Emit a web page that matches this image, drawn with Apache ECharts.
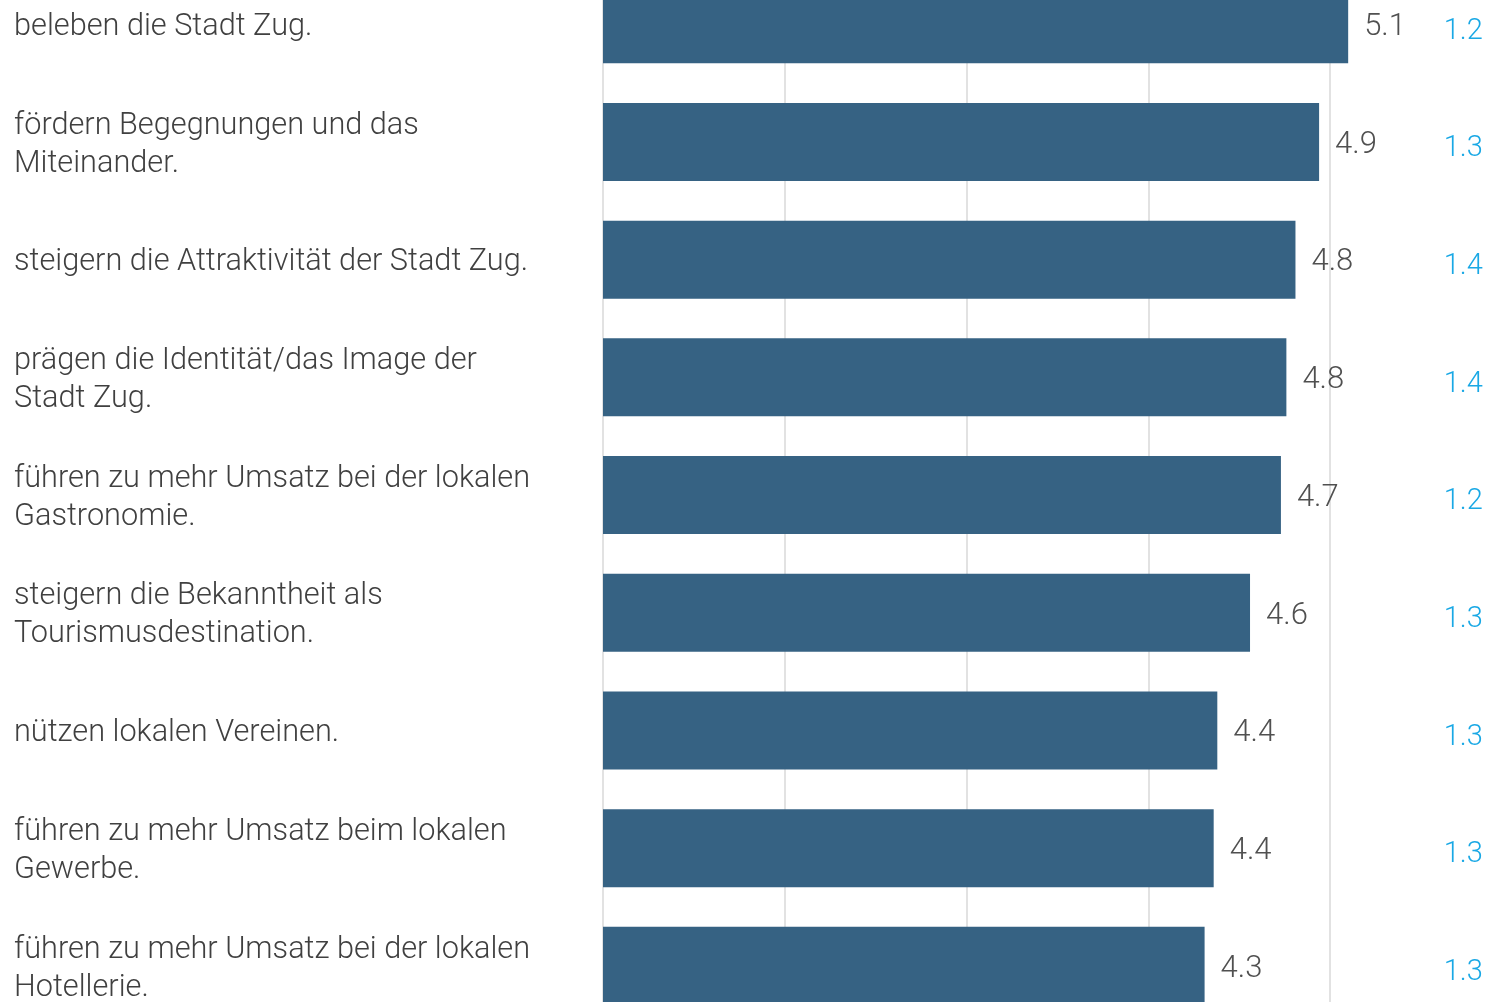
<!DOCTYPE html>
<html>
<head>
<meta charset="utf-8">
<script src="https://cdn.jsdelivr.net/npm/echarts@6/dist/echarts.min.js"></script>
<style>
html,body{margin:0;padding:0;background:#fff;width:1492px;height:1002px;overflow:hidden;position:relative;}
#chart{position:absolute;left:0;top:-40px;width:1600px;height:1100px;}
</style>
</head>
<body>
<div id="chart"></div>
<script>
var categories = [
  "beleben die Stadt Zug.",
  "fördern Begegnungen und das\nMiteinander.",
  "steigern die Attraktivität der Stadt Zug.",
  "prägen die Identität/das Image der\nStadt Zug.",
  "führen zu mehr Umsatz bei der lokalen\nGastronomie.",
  "steigern die Bekanntheit als\nTourismusdestination.",
  "nützen lokalen Vereinen.",
  "führen zu mehr Umsatz beim lokalen\nGewerbe.",
  "führen zu mehr Umsatz bei der lokalen\nHotellerie."
];
var meanValues = [5.10, 4.94, 4.81, 4.76, 4.73, 4.56, 4.38, 4.36, 4.31];
var sdValues = [1.2, 1.3, 1.4, 1.4, 1.2, 1.3, 1.3, 1.3, 1.3];
var xTicks = [1, 2, 3, 4, 5, 6];

var FONT = 'Roboto';
var chart = echarts.init(document.getElementById('chart'), null, {renderer: 'canvas'});
var option = {
  animation: false,
  backgroundColor: '#ffffff',
  grid: [
    {left: 603, top: 5.4, width: 908.75, height: 1059.3, containLabel: false},
    {left: 603, top: 8.4, width: 908.75, height: 1059.3, containLabel: false}
  ],
  xAxis: [{
    type: 'value',
    gridIndex: 0,
    min: xTicks[0], max: xTicks[xTicks.length - 1], interval: 1,
    axisLine: {show: false},
    axisTick: {show: false},
    axisLabel: {show: false},
    splitLine: {show: true, lineStyle: {color: '#d9d9d9', width: 1.5}}
  }, {
    type: 'value',
    gridIndex: 1,
    min: xTicks[0], max: xTicks[xTicks.length - 1], interval: 1,
    show: false
  }],
  yAxis: [{
    type: 'category',
    gridIndex: 0,
    data: categories,
    inverse: true,
    axisLine: {show: false},
    axisTick: {show: false},
    axisLabel: {show: false}
  }, {
    type: 'category',
    gridIndex: 0,
    data: sdValues.map(function (v) { return v.toFixed(1); }),
    inverse: true,
    position: 'right',
    offset: -68,
    axisLine: {show: false},
    axisTick: {show: false},
    axisLabel: {
      align: 'left',
      margin: 0,
      formatter: function (v) { return '{v|' + v + '}'; },
      rich: {
        v: {
          fontFamily: FONT,
          fontWeight: 300,
          fontSize: 29,
          lineHeight: 30,
          padding: [14, 0, 0, 0],
          color: '#19a8e5'
        }
      }
    }
  }, {
    type: 'category',
    gridIndex: 1,
    data: categories,
    inverse: true,
    axisLine: {show: false},
    axisTick: {show: false},
    axisLabel: {
      align: 'left',
      margin: 589,
      fontFamily: FONT,
      fontWeight: 300,
      fontSize: 30.7,
      lineHeight: 38,
      color: '#404040'
    }
  }],
  series: [{
    type: 'bar',
    xAxisIndex: 0,
    yAxisIndex: 0,
    data: meanValues,
    barWidth: 78,
    itemStyle: {color: '#366283'},
    label: {
      show: true,
      position: 'right',
      distance: 16,
      offset: [0, 3],
      fontFamily: FONT,
      fontWeight: 300,
      fontSize: 31,
      color: '#505050',
      formatter: function (p) { return p.value.toFixed(1); }
    }
  }]
};
chart.setOption(option);
</script>
</body>
</html>
